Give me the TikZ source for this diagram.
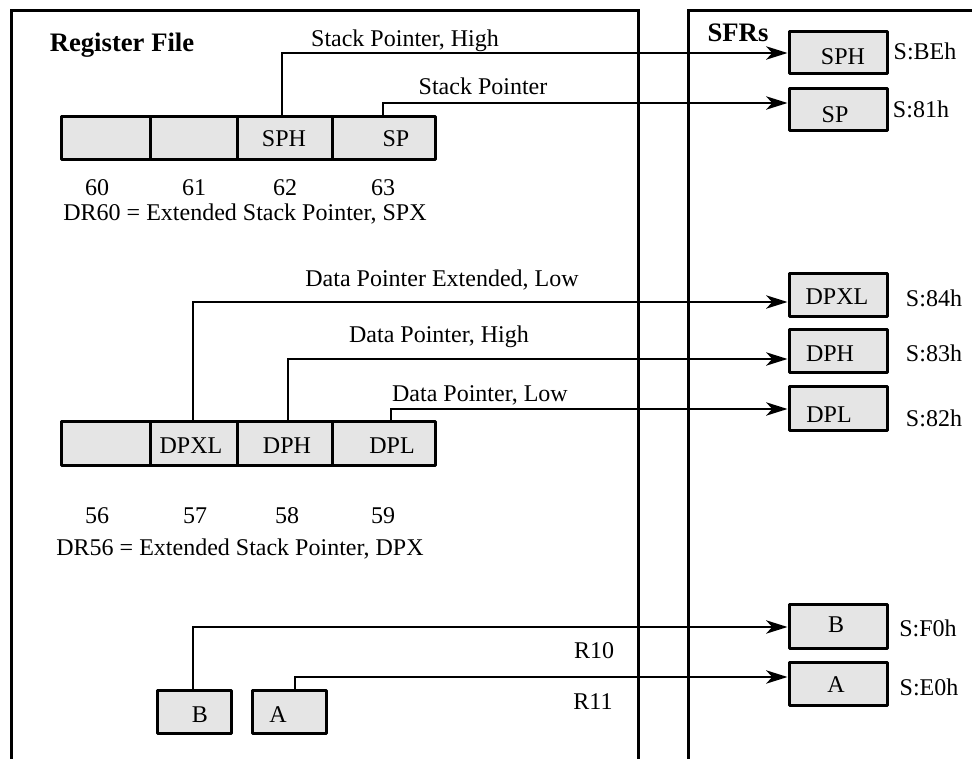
\documentclass[tikz,border=0pt]{standalone}
\usepackage{fontspec}
\setmainfont{Liberation Serif}
\usetikzlibrary{fit,arrows.meta}
\begin{document}
\begin{tikzpicture}[x=0.75pt,y=-0.75pt,
  frame/.style={line width=2.25pt, line join=miter},
  regbox/.style={draw, fill=black!10, line width=2.25pt, line join=round, inner sep=0pt},
  conn/.style={line width=1.5pt},
  arr/.style={conn, -{Stealth[length=16pt,width=10pt,inset=4.5pt]}},
  txt/.style={anchor=base, inner sep=0pt, font=\fontsize{18}{21}\selectfont},
  ttl/.style={txt, font=\fontsize{20}{24}\selectfont\bfseries}]
\useasboundingbox (0,0) rectangle (972,759);

% panel frames
\draw[frame] (11,759) -- (11,11) -- (638,11) -- (638,759);
\draw[frame] (688,759) -- (688,11) -- (972,11);

\node[ttl] (tRF) at (122,52) {Register File};
\node[ttl] (tSFR) at (738,42) {SFRs};

% register file cells, DR60
\node[regbox, fit={(61,117)(150,160)}] (r60) {};
\node[regbox, fit={(150,117)(237,160)}] (r61) {};
\node[regbox, fit={(237,117)(332,160)}] (rSPH) {};
\node[regbox, fit={(332,117)(435,160)}] (rSP) {};
\node[txt] (lrSPH) at (284,147) {SPH};
\node[txt] (lrSP) at (396,147) {SP};
\node[txt] (n60) at (97,196) {60};
\node[txt] (n61) at (194,196) {61};
\node[txt] (n62) at (285,196) {62};
\node[txt] (n63) at (383,196) {63};
\node[txt] (dr60) at (245,221) {DR60 = Extended Stack Pointer, SPX};

% register file cells, DR56
\node[regbox, fit={(61,422)(150,466)}] (r56) {};
\node[regbox, fit={(150,422)(237,466)}] (rDPXL) {};
\node[regbox, fit={(237,422)(332,466)}] (rDPH) {};
\node[regbox, fit={(332,422)(435,466)}] (rDPL) {};
\node[txt] (lrDPXL) at (191,454) {DPXL};
\node[txt] (lrDPH) at (287,454) {DPH};
\node[txt] (lrDPL) at (392,454) {DPL};
\node[txt] (n56) at (97,523) {56};
\node[txt] (n57) at (195,523) {57};
\node[txt] (n58) at (287,523) {58};
\node[txt] (n59) at (383,523) {59};
\node[txt] (dr56) at (240,555) {DR56 = Extended Stack Pointer, DPX};

% R10 / R11
\node[regbox, fit={(157,690)(231,733)}] (rB) {};
\node[regbox, fit={(252,690)(326,733)}] (rA) {};
\node[txt] (lrB) at (200,722) {B};
\node[txt] (lrA) at (278,722) {A};
\node[txt] (r10) at (594,658) {R10};
\node[txt] (r11) at (593,709) {R11};

% special function registers
\node[regbox, fit={(789,32)(887,74)}] (sSPH) {};
\node[regbox, fit={(789,89)(887,131)}] (sSP) {};
\node[regbox, fit={(789,274)(887,317)}] (sDPXL) {};
\node[regbox, fit={(789,330)(887,373)}] (sDPH) {};
\node[regbox, fit={(789,387)(887,431)}] (sDPL) {};
\node[regbox, fit={(789,604)(887,648)}] (sB) {};
\node[regbox, fit={(789,662)(887,705)}] (sA) {};
\node[txt] (lsSPH) at (843,65) {SPH};
\node[txt] (lsSP) at (835,123) {SP};
\node[txt] (lsDPXL) at (837,305) {DPXL};
\node[txt] (lsDPH) at (830,362) {DPH};
\node[txt] (lsDPL) at (829,423) {DPL};
\node[txt] (lsB) at (836,632) {B};
\node[txt] (lsA) at (836,692) {A};

% SFR addresses
\node[txt] (aSPH) at (925,60) {S:BEh};
\node[txt] (aSP) at (921,118) {S:81h};
\node[txt] (aDPXL) at (934,307) {S:84h};
\node[txt] (aDPH) at (934,362) {S:83h};
\node[txt] (aDPL) at (934,427) {S:82h};
\node[txt] (aB) at (928,636) {S:F0h};
\node[txt] (aA) at (929,695) {S:E0h};

% connector labels
\node[txt] (tSPHi) at (405,47) {Stack Pointer, High};
\node[txt] (tSPo) at (483,95) {Stack Pointer};
\node[txt] (tDPXL) at (442,287) {Data Pointer Extended, Low};
\node[txt] (tDPH) at (439,343) {Data Pointer, High};
\node[txt] (tDPL) at (480,402) {Data Pointer, Low};

% connectors
\draw[arr] (rSPH.north -| 282,0) |- (sSPH.west |- 0,53);
\draw[arr] (rSP.north -| 383,0) |- (sSP.west |- 0,103);
\draw[arr] (rDPXL.north -| 193,0) |- (sDPXL.west |- 0,302);
\draw[arr] (rDPH.north -| 288,0) |- (sDPH.west |- 0,359);
\draw[arr] (rDPL.north -| 391,0) |- (sDPL.west |- 0,409);
\draw[arr] (rB.north -| 193,0) |- (sB.west |- 0,627);
\draw[arr] (rA.north -| 295,0) |- (sA.west |- 0,677);
\end{tikzpicture}
\end{document}
